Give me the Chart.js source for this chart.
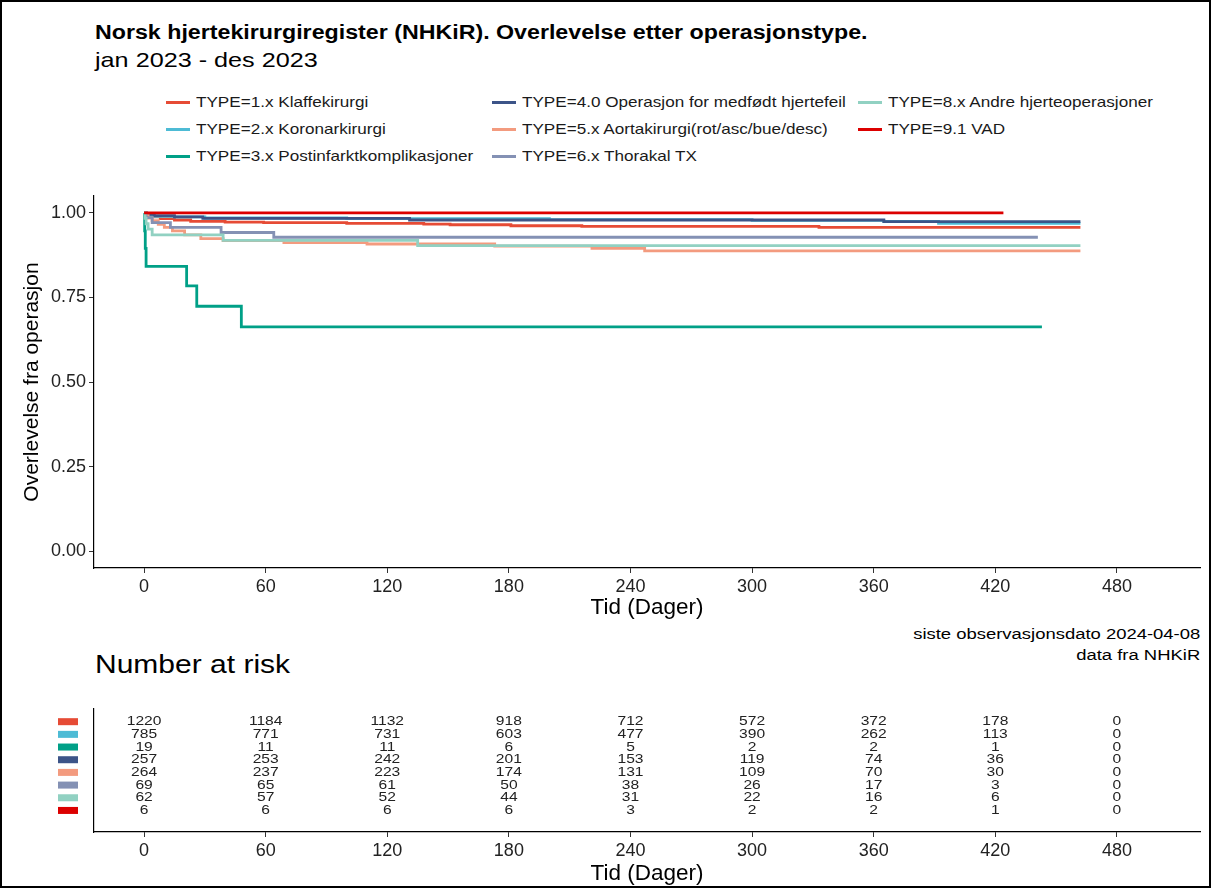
<!DOCTYPE html>
<html>
<head>
<meta charset="utf-8">
<script src="https://cdn.jsdelivr.net/npm/chart.js@4/dist/chart.umd.min.js"></script>
<style>
  body { margin: 0; background: #fff; font-family: "Liberation Sans", Arial, sans-serif; color: #000; }
  #page { position: relative; width: 1211px; height: 888px; overflow: hidden; background: #fff; }
  #frame { position: absolute; left: 0; top: 0; width: 1207px; height: 884px; border: 2px solid #000; pointer-events: none; }
  .txt { position: absolute; white-space: nowrap; line-height: 1; transform-origin: left center; transform: scaleX(1.19); }
  .txt.r { transform-origin: right center; text-align: right; }
  canvas { position: absolute; left: 0; }
  .leg { position: absolute; height: 18px; display: flex; align-items: center; font-size: 14.5px; white-space: nowrap; color: #1a1a1a; }
  .leg i { display: inline-block; width: 24px; height: 3px; margin-right: 6px; }
  .leg span { display: inline-block; transform-origin: left center; transform: scaleX(1.18); }
</style>
</head>
<body>
<div id="page">
  <div class="txt" style="left:95px;top:23px;font-size:19.5px;font-weight:bold">Norsk hjertekirurgiregister (NHKiR). Overlevelse etter operasjonstype.</div>
  <div class="txt" style="left:95px;top:49px;font-size:21px;transform:scaleX(1.2)">jan 2023 - des 2023</div>
  <div id="legend"></div>
  <canvas id="km" width="1211" height="431" style="top:190px"></canvas>
  <div class="txt r" style="right:11px;top:626px;font-size:15.5px">siste observasjonsdato 2024-04-08</div>
  <div class="txt r" style="right:11px;top:647px;font-size:15.5px">data fra NHKiR</div>
  <div class="txt" style="left:95px;top:652px;font-size:25px;transform:scaleX(1.2)">Number at risk</div>
  <canvas id="risk" width="1211" height="197" style="top:690px"></canvas>
  <div id="frame"></div>
</div>
<script>
// grupper (rekkefølge som i registerets figur)
const gruppeNavn = [
  'TYPE=1.x Klaffekirurgi',
  'TYPE=2.x Koronarkirurgi',
  'TYPE=3.x Postinfarktkomplikasjoner',
  'TYPE=4.0 Operasjon for medfødt hjertefeil',
  'TYPE=5.x Aortakirurgi(rot/asc/bue/desc)',
  'TYPE=6.x Thorakal TX',
  'TYPE=8.x Andre hjerteoperasjoner',
  'TYPE=9.1 VAD'
];
const gruppeFarger = ['#E64B35', '#4DBBD5', '#00A087', '#3C5488', '#F39B7F', '#8491B4', '#91D1C2', '#DC0000'];

// Kaplan-Meier: tid (dager) og overlevelse
const klaffTid = [0, 1, 3, 8, 15, 23, 40, 59, 100, 138, 151, 181, 216, 333, 462];
const klaffOverlevelse = [1, 0.993, 0.988, 0.983, 0.979, 0.975, 0.973, 0.971, 0.969, 0.967, 0.965, 0.962, 0.960, 0.957, 0.957];
const koronarTid = [0, 1, 2, 5, 15, 30, 100, 200, 300, 365, 392, 462];
const koronarOverlevelse = [1, 0.996, 0.992, 0.990, 0.988, 0.985, 0.983, 0.980, 0.978, 0.975, 0.969, 0.969];
const postinfarktTid = [0, 0.3, 0.6, 1, 21, 26, 48, 443];
const postinfarktOverlevelse = [1, 0.947, 0.895, 0.842, 0.784, 0.724, 0.663, 0.663];
const medfodtTid = [0, 1, 5, 15, 29, 131, 365, 462];
const medfodtOverlevelse = [1, 0.996, 0.992, 0.988, 0.984, 0.979, 0.974, 0.974];
const aortaTid = [0, 1, 2, 4, 7, 10, 14, 20, 28, 39, 69, 110, 173, 221, 247, 462];
const aortaOverlevelse = [1, 0.992, 0.985, 0.977, 0.966, 0.957, 0.947, 0.935, 0.924, 0.918, 0.912, 0.908, 0.902, 0.895, 0.888, 0.888];
const thorakalTid = [0, 1, 4, 13, 38, 64, 441];
const thorakalOverlevelse = [1, 0.986, 0.971, 0.957, 0.942, 0.928, 0.928];
const andreTid = [0, 0.5, 1, 2, 4, 39, 135, 462];
const andreOverlevelse = [1, 0.984, 0.968, 0.952, 0.935, 0.919, 0.903, 0.903];
const vadTid = [0, 424];
const vadOverlevelse = [1, 1];

// number at risk ved tidspunktene i risikoTid
const risikoTid = [0, 60, 120, 180, 240, 300, 360, 420, 480];
const klaffRisiko = [1220, 1184, 1132, 918, 712, 572, 372, 178, 0];
const koronarRisiko = [785, 771, 731, 603, 477, 390, 262, 113, 0];
const postinfarktRisiko = [19, 11, 11, 6, 5, 2, 2, 1, 0];
const medfodtRisiko = [257, 253, 242, 201, 153, 119, 74, 36, 0];
const aortaRisiko = [264, 237, 223, 174, 131, 109, 70, 30, 0];
const thorakalRisiko = [69, 65, 61, 50, 38, 26, 17, 3, 0];
const andreRisiko = [62, 57, 52, 44, 31, 22, 16, 6, 0];
const vadRisiko = [6, 6, 6, 6, 3, 2, 2, 1, 0];

const tidTicks = [0, 60, 120, 180, 240, 300, 360, 420, 480];
const overlevelseTicks = [0, 0.25, 0.5, 0.75, 1];

const kurver = [
  [klaffTid, klaffOverlevelse], [koronarTid, koronarOverlevelse], [postinfarktTid, postinfarktOverlevelse],
  [medfodtTid, medfodtOverlevelse], [aortaTid, aortaOverlevelse], [thorakalTid, thorakalOverlevelse],
  [andreTid, andreOverlevelse], [vadTid, vadOverlevelse]
];
const risiko = [klaffRisiko, koronarRisiko, postinfarktRisiko, medfodtRisiko, aortaRisiko, thorakalRisiko, andreRisiko, vadRisiko];

const FONT = '"Liberation Sans", Arial, sans-serif';
Chart.defaults.font.family = FONT;
Chart.defaults.color = '#222';

// legende i tre kolonner, fylt kolonnevis
const legendCols = [166, 492, 858];
const legendRows = [102, 129, 156];
const legendEl = document.getElementById('legend');
gruppeNavn.forEach((navn, i) => {
  const d = document.createElement('div');
  d.className = 'leg';
  d.style.left = legendCols[Math.floor(i / 3)] + 'px';
  d.style.top = (legendRows[i % 3] - 9) + 'px';
  d.innerHTML = '<i style="background:' + gruppeFarger[i] + '"></i><span>' + navn + '</span>';
  legendEl.appendChild(d);
});

function xScale(h) {
  return {
    type: 'linear', min: -24.7, max: 521,
    afterBuildTicks: (s) => { s.ticks = tidTicks.map((v) => ({ value: v })); },
    afterFit: (s) => { s.height = h; },
    ticks: { font: { size: 18 }, padding: 3, maxRotation: 0, color: '#222' },
    grid: { drawOnChartArea: false, color: 'rgba(0,0,0,0)', tickColor: '#333', tickLength: 5 },
    border: { display: true, color: '#000', width: 1.2 },
    title: { display: true, text: 'Tid (Dager)', font: { size: 22.5 }, color: '#000', padding: { top: 0, bottom: 0 } }
  };
}

const kmChart = new Chart(document.getElementById('km'), {
  type: 'line',
  data: {
    datasets: kurver.map(([tid, s], i) => ({
      label: gruppeNavn[i],
      data: tid.map((t, j) => ({ x: t, y: s[j] })),
      borderColor: gruppeFarger[i],
      borderWidth: 2.8,
      stepped: 'before',
      pointRadius: 0,
      fill: false,
      order: kurver.length - 1 - i
    }))
  },
  options: {
    responsive: false, animation: false, devicePixelRatio: 1,
    layout: { padding: { top: 6, right: 11, left: 0, bottom: 0 } },
    plugins: { legend: { display: false }, tooltip: { enabled: false } },
    scales: {
      x: xScale(53),
      y: {
        type: 'linear', min: -0.05, max: 1.05,
        afterBuildTicks: (s) => { s.ticks = overlevelseTicks.map((v) => ({ value: v })); },
        afterFit: (s) => { s.width = 94; s.paddingTop = 0; s.paddingBottom = 0; },
        ticks: { font: { size: 18 }, padding: 3, color: '#222', callback: (v) => Number(v).toFixed(2) },
        grid: { drawOnChartArea: false, color: 'rgba(0,0,0,0)', tickColor: '#333', tickLength: 5 },
        border: { display: true, color: '#000', width: 1.2 },
        title: { display: true, text: 'Overlevelse fra operasjon', font: { size: 21 }, color: '#000', padding: { top: 20, bottom: 0 } }
      }
    }
  }
});

// tall i risikotabellen + fargefelt til venstre
const riskLabels = {
  id: 'riskLabels',
  afterDatasetsDraw(chart) {
    const { ctx, chartArea } = chart;
    ctx.save();
    ctx.font = '13px ' + FONT;
    ctx.textAlign = 'center';
    ctx.textBaseline = 'middle';
    chart.data.datasets.forEach((ds, i) => {
      const meta = chart.getDatasetMeta(i);
      ctx.fillStyle = '#222';
      meta.data.forEach((pt, j) => {
        ctx.save();
        ctx.translate(pt.x, pt.y);
        ctx.scale(1.2, 1);
        ctx.fillText(String(ds.data[j].n), 0, 0);
        ctx.restore();
      });
      ctx.fillStyle = gruppeFarger[i];
      ctx.fillRect(chartArea.left - 36, meta.data[0].y - 3.5, 20, 7);
    });
    ctx.restore();
  }
};

const riskChart = new Chart(document.getElementById('risk'), {
  type: 'scatter',
  data: {
    datasets: risiko.map((rad, i) => ({
      label: gruppeNavn[i],
      data: risikoTid.map((t, j) => ({ x: t, y: i + 1, n: rad[j] })),
      pointRadius: 0,
      showLine: false
    }))
  },
  options: {
    responsive: false, animation: false, devicePixelRatio: 1,
    layout: { padding: { top: 19, right: 11, left: 0, bottom: 0 } },
    plugins: { legend: { display: false }, tooltip: { enabled: false } },
    scales: {
      x: xScale(55),
      y: {
        type: 'linear', min: 0, max: 9.7, reverse: true,
        afterFit: (s) => { s.width = 94; s.paddingTop = 0; s.paddingBottom = 0; },
        ticks: { display: false },
        grid: { display: false },
        border: { display: true, color: '#000', width: 1.2 }
      }
    }
  },
  plugins: [riskLabels]
});
</script>
</body>
</html>
